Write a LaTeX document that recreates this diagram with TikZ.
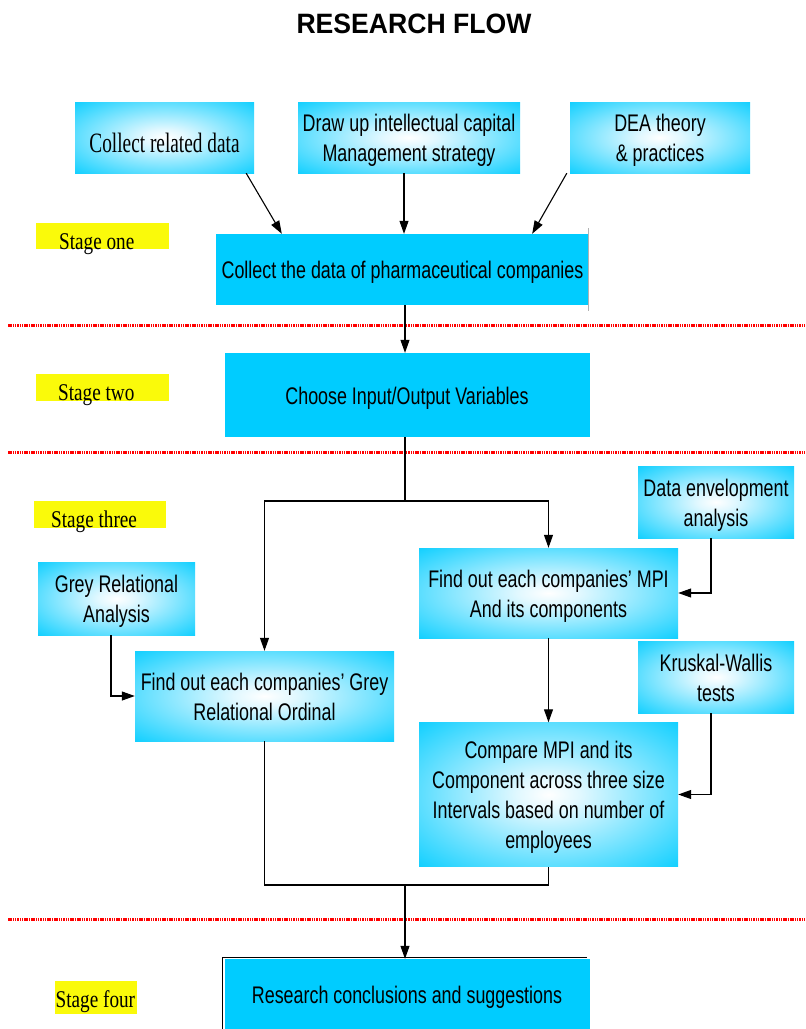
\documentclass[tikz,border=0pt]{standalone}
\usepackage{fontspec}
\setmainfont{Liberation Sans}
\newfontfamily\boxfont{Liberation Sans}[FakeStretch=0.745]
\newfontfamily\serfont{Liberation Serif}[FakeStretch=0.8]
\newfontfamily\serbig{Liberation Serif}[FakeStretch=0.69]
\newfontfamily\titlefont{Liberation Sans}[FakeStretch=0.95]
\usetikzlibrary{arrows.meta,calc}
\definecolor{boxc}{RGB}{0,204,255}
\definecolor{lightc}{RGB}{225,248,255}
\definecolor{stagey}{RGB}{250,250,10}
\pgfdeclareradialshading{boxglow}{\pgfpoint{0bp}{0bp}}{color(0bp)=(white); color(6bp)=(lightc); color(38bp)=(boxc); color(100bp)=(boxc)}
\tikzset{
  gbox/.style={shade, shading=boxglow, draw=none, inner sep=0pt, align=center, text height=18pt, text depth=0pt, font=\boxfont\fontsize{24}{30}\selectfont},
  sbox/.style={fill=boxc, draw=none, inner sep=0pt, align=center, text height=18pt, text depth=0pt, font=\boxfont\fontsize{24}{30}\selectfont},
  twolines/.style={text height=48pt},
  fourlines/.style={text height=108pt},
  arr/.style={-{Triangle[length=13pt,width=9pt]}, line width=1.1pt},
  ln/.style={line width=1.1pt},
  reddash/.style={red, line width=3pt, dash pattern=on 1.5pt off 0.8pt},
  stagebg/.style={fill=stagey},
  stagetxt/.style={font=\serfont\fontsize{24}{28}\selectfont, inner sep=0pt, anchor=base west}
}
\begin{document}
\begin{tikzpicture}[x=1pt,y=-1pt]
\useasboundingbox (0,0) rectangle (806,1029);
\fill[white] (0,0) rectangle (806,1029);

% title
\node[font=\titlefont\bfseries\fontsize{28}{34}\selectfont, anchor=base, inner sep=0pt] (title) at (414,33) {RESEARCH FLOW};

% red separators
\draw[reddash] (8,325) -- (806,325);
\draw[reddash] (8,452) -- (806,452);
\draw[reddash] (8,919) -- (806,919);

% stage labels
\fill[stagebg] (36,223) rectangle (169,249);
\node[stagetxt] (st1) at (59,249) {Stage one};
\fill[stagebg] (36,374) rectangle (169,401);
\node[stagetxt] (st2) at (58,400) {Stage two};
\fill[stagebg] (34,501) rectangle (166,528);
\node[stagetxt] (st3) at (51,527) {Stage three};
\fill[stagebg] (55,981) rectangle (137,1014);
\node[stagetxt] (st4) at (55.5,1007) {Stage four};

% top boxes
\node[gbox, font=\serbig\fontsize{28}{30}\selectfont, text height=29.6pt, minimum width=179pt, minimum height=71pt] (crd) at (164.5,137.5) {Collect related data};
\node[gbox, twolines, minimum width=222pt, minimum height=71pt] (draw) at (409,137.5) {Draw up intellectual capital\\Management strategy};
\node[gbox, twolines, minimum width=180pt, minimum height=71pt] (dea) at (660,137.5) {DEA theory\\\& practices};

% stage one / two
\node[sbox, minimum width=373pt, minimum height=71pt] (s1) at (402.5,269.5) {Collect the data of pharmaceutical companies};
\draw[gray!60, line width=0.6pt] (588,228) -- (588,311);
\node[sbox, minimum width=365pt, minimum height=84pt] (s2) at (407,395) {Choose Input/Output Variables};

% stage three
\node[gbox, twolines, minimum width=156pt, minimum height=72pt] (deabox) at (716,502) {Data envelopment\\analysis};
\node[gbox, twolines, minimum width=259pt, minimum height=90pt] (mpi) at (548.5,593) {Find out each companies’ MPI\\And its components};
\node[gbox, twolines, minimum width=157pt, minimum height=73pt] (gra) at (116.5,598.5) {Grey Relational\\Analysis};
\node[gbox, twolines, minimum width=259pt, minimum height=90pt] (gro) at (264.5,696) {Find out each companies’ Grey\\Relational Ordinal};
\node[gbox, twolines, minimum width=156pt, minimum height=72pt] (kw) at (716,677) {Kruskal-Wallis\\tests};
\node[gbox, fourlines, minimum width=259pt, minimum height=144pt] (cmp) at (548.5,794.5) {Compare MPI and its\\Component across three size\\Intervals based on number of\\employees};

% stage four
\node[sbox, minimum width=365pt, minimum height=71pt] (res) at (407,994.5) {Research conclusions and suggestions};
\draw[line width=0.8pt] (222,1029) -- (222,957) -- (587,957);

% coordinates
\coordinate (split) at (405,501);
\coordinate (merge) at (405,885);

% connectors
\draw[arr] ([xshift=-8pt]crd.south east) -- ([xshift=66pt]s1.north west);
\draw[arr] ([xshift=-5pt]draw.south) -- ([xshift=-5pt]draw.south |- s1.north);
\draw[arr] ([xshift=-3pt]dea.south west) -- ([xshift=-57pt]s1.north east);
\draw[arr] ([xshift=2.5pt]s1.south) -- ([xshift=2.5pt]s1.south |- s2.north);
\draw[ln] (split |- s2.south) -- (split);
\draw[arr] (split) -| (gro.north);
\draw[arr] (split) -| (mpi.north);
\draw[arr] ([xshift=-5pt]deabox.south) |- (mpi.east);
\draw[arr] ([xshift=-5.5pt]gra.south) |- (gro.west);
\draw[arr] (mpi.south) -- (cmp.north);
\draw[arr] ([xshift=-5pt]kw.south) |- (cmp.east);
\draw[ln] (gro.south) -- (gro.south |- merge) -- (cmp.south |- merge) -- (cmp.south);
\draw[arr] (merge) -- (merge |- res.north);
\end{tikzpicture}
\end{document}
